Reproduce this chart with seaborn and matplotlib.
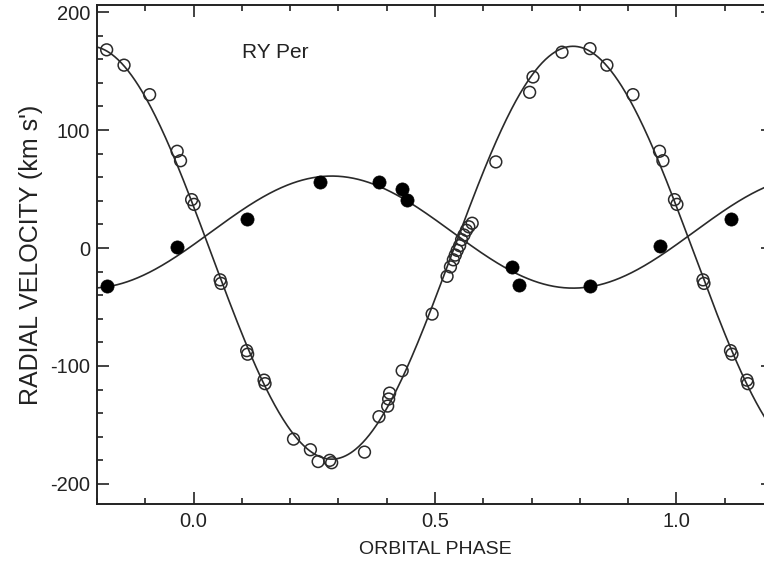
import numpy as np
import pandas as pd
import matplotlib
matplotlib.use("Agg")
import matplotlib.pyplot as plt
from matplotlib.ticker import MultipleLocator
import seaborn as sns

# ---- data ----
# secondary star (open circles)
sec_phase = [-0.180, -0.144, -0.091, -0.034, -0.027, -0.004, 0.001, 0.055, 0.057,
             0.110, 0.112, 0.146, 0.148, 0.207, 0.242, 0.258, 0.282, 0.286, 0.354,
             0.384, 0.402, 0.404, 0.406, 0.432, 0.494,
             0.525, 0.532, 0.538, 0.542, 0.546, 0.551, 0.555, 0.560, 0.565, 0.570, 0.577,
             0.626, 0.696, 0.703, 0.763, 0.821, 0.856, 0.910, 0.965, 0.972, 0.996, 1.001,
             1.055, 1.057, 1.112, 1.115, 1.146, 1.148]
sec_vel = [168, 155, 130, 82, 74, 41, 37, -27, -30,
           -87, -90, -112, -115, -162, -171, -181, -180, -182, -173,
           -143, -134, -128, -123, -104, -56,
           -24, -16, -10, -6, -2, 2, 7, 11, 15, 18, 21,
           73, 132, 145, 166, 169, 155, 130, 82, 74, 41, 37,
           -27, -30, -87, -90, -112, -115]

# primary star (filled circles)
pri_phase = [-0.180, -0.034, 0.111, 0.262, 0.383, 0.432, 0.441, 0.659, 0.673, 0.820, 0.965, 1.112]
pri_vel = [-32, 1, 25, 56, 56, 50, 41, -16, -31, -32, 2, 25]

# fitted orbit parameters
PHI0 = 0.286      # phase of primary maximum / secondary minimum
GAMMA1, K1 = 13.5, 47.5
GAMMA2, K2 = -4.0, 175.0

x_ticks = [0.0, 0.5, 1.0]
x_ticklabels = ["0.0", "0.5", "1.0"]
y_ticks = [-200, -100, 0, 100, 200]
y_ticklabels = ["-200", "-100", "0", "100", "200"]

# ---- build frames ----
df_sec = pd.DataFrame({"phase": sec_phase, "vel": sec_vel})
df_pri = pd.DataFrame({"phase": pri_phase, "vel": pri_vel})
grid = np.linspace(-0.2, 1.2, 800)
df_fit = pd.DataFrame({
    "phase": np.concatenate([grid, grid]),
    "vel": np.concatenate([GAMMA1 + K1 * np.cos(2 * np.pi * (grid - PHI0)),
                           GAMMA2 - K2 * np.cos(2 * np.pi * (grid - PHI0))]),
    "star": ["primary"] * len(grid) + ["secondary"] * len(grid),
})

sns.set_theme(style="ticks")
plt.rcParams["font.family"] = ["Liberation Sans", "DejaVu Sans"]

fig = plt.figure(figsize=(7.64, 5.64), dpi=100)
ax = fig.add_axes([97 / 764, 60 / 564, 676 / 764, 499 / 564])

sns.lineplot(data=df_fit, x="phase", y="vel", units="star", estimator=None,
             color="#2a2a2a", linewidth=1.2, ax=ax, sort=False)
sns.scatterplot(data=df_sec, x="phase", y="vel", marker="o", s=72,
                facecolor="none", edgecolor="#2a2a2a", linewidth=1.1, ax=ax, zorder=3)
sns.scatterplot(data=df_pri, x="phase", y="vel", marker="o", s=90,
                color="black", edgecolor="black", linewidth=0.5, ax=ax, zorder=3)

ax.set_xlim(-0.2, 1.2)
ax.set_ylim(-217, 206)
ax.set_xticks(x_ticks)
ax.set_xticklabels(x_ticklabels)
ax.set_yticks(y_ticks)
ax.set_yticklabels(y_ticklabels)
ax.xaxis.set_minor_locator(MultipleLocator(0.1))
ax.yaxis.set_minor_locator(MultipleLocator(20))
ax.tick_params(which="both", direction="in", top=True, right=True,
               colors="#222222", width=1.2)
ax.tick_params(which="major", length=8.5, labelsize=14.5)
ax.tick_params(axis="x", which="major", pad=6)
ax.tick_params(axis="y", which="major", pad=5)
ax.tick_params(which="minor", length=4.5)
for sp in ax.spines.values():
    sp.set_linewidth(1.4)
    sp.set_color("#222222")
    sp.set_visible(True)

ax.set_xlabel("ORBITAL PHASE", fontsize=14, color="#222222", labelpad=7)
ax.set_ylabel("RADIAL VELOCITY (km s')", fontsize=18, color="#222222", labelpad=5)
ax.text(0.101, 166, "RY Per", fontsize=15, color="#222222", ha="left", va="center")

fig.savefig("out.png", dpi=100)
